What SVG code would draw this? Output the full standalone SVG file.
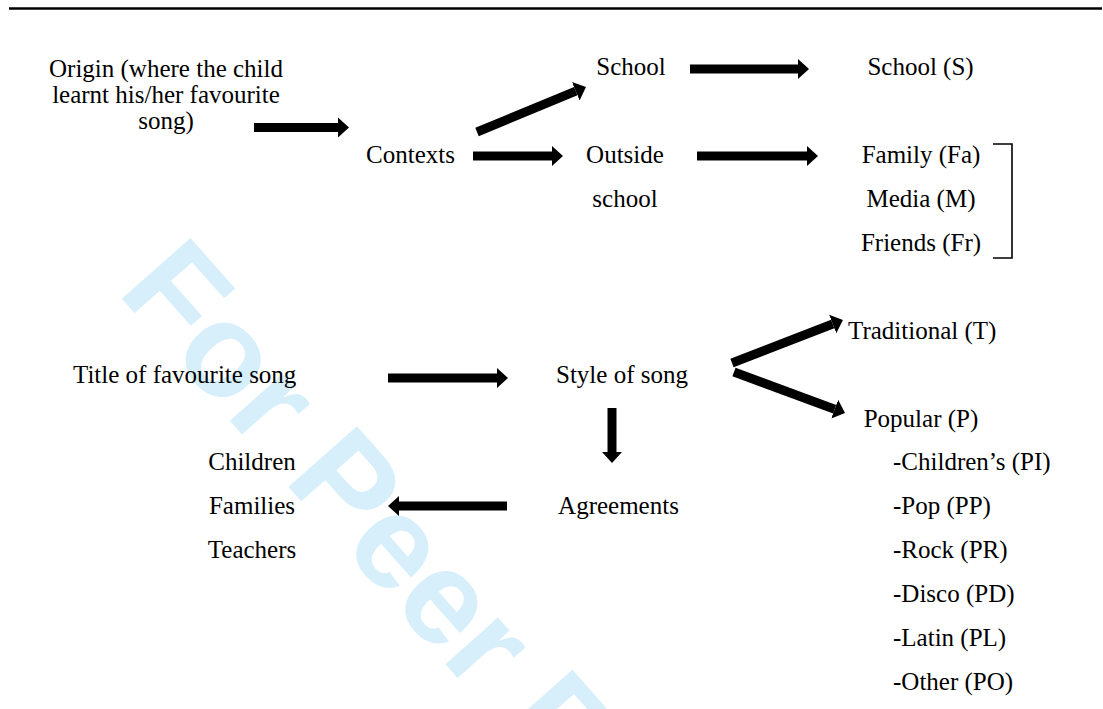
<svg xmlns="http://www.w3.org/2000/svg" width="1103" height="709" viewBox="0 0 1103 709">
<style>
  text { font-family: "Liberation Serif", "Times New Roman", serif; font-size: 25px; fill: #000; }
  .c { text-anchor: middle; }
  .wm { font-family: "Liberation Sans", Arial, sans-serif; font-weight: bold; font-size: 133px; fill: #d6effb; }
  .arr { stroke: #000; stroke-width: 9; fill: none; marker-end: url(#head); }
</style>
<defs>
  <marker id="head" markerUnits="userSpaceOnUse" markerWidth="12" markerHeight="22" refX="0" refY="11" orient="auto" viewBox="0 0 12 22">
    <path d="M0,1 L11,11 L0,21 Z" fill="#000"/>
  </marker>
</defs>
<rect width="1103" height="709" fill="#fff"/>
<text class="wm" transform="translate(116,292) rotate(48.5)">For Peer Review</text>
<line x1="9" y1="8.5" x2="1102" y2="8.5" stroke="#000" stroke-width="2.5"/>

<g id="connectors">
  <line class="arr" x1="254" y1="127.5" x2="338" y2="127.5"/>
  <line class="arr" x1="477" y1="132" x2="575.8" y2="91.2"/>
  <line class="arr" x1="473" y1="156" x2="552" y2="156"/>
  <line class="arr" x1="690" y1="69" x2="798" y2="69"/>
  <line class="arr" x1="697" y1="156" x2="807" y2="156"/>
  <line class="arr" x1="388" y1="378" x2="497" y2="378"/>
  <line class="arr" x1="732" y1="363" x2="832.7" y2="324"/>
  <line class="arr" x1="734" y1="372" x2="834.7" y2="409.2"/>
  <line class="arr" x1="612" y1="408" x2="612" y2="452"/>
  <line class="arr" x1="507" y1="506" x2="399" y2="506"/>
  <path d="M993,144 H1012 V258 H993" fill="none" stroke="#000" stroke-width="1.6"/>
</g>

<g id="origin">
  <text class="c" x="166" y="77">Origin (where the child</text>
  <text class="c" x="166" y="103">learnt his/her favourite</text>
  <text class="c" x="166" y="129">song)</text>
</g>
<g id="contexts"><text class="c" x="410.5" y="163">Contexts</text></g>
<g id="school"><text class="c" x="631" y="75">School</text></g>
<g id="outside-school">
  <text class="c" x="625" y="163">Outside</text>
  <text class="c" x="625" y="207">school</text>
</g>
<g id="school-s"><text class="c" x="920.5" y="75">School (S)</text></g>
<g id="outside-list">
  <text class="c" x="921" y="163">Family (Fa)</text>
  <text class="c" x="921" y="207">Media (M)</text>
  <text class="c" x="921" y="251">Friends (Fr)</text>
</g>
<g id="title"><text x="73" y="383">Title of favourite song</text></g>
<g id="style"><text class="c" x="622" y="383">Style of song</text></g>
<g id="traditional"><text x="848" y="339">Traditional (T)</text></g>
<g id="popular">
  <text class="c" x="921" y="427">Popular (P)</text>
  <text x="893" y="470">-Children’s (PI)</text>
  <text x="893" y="514">-Pop (PP)</text>
  <text x="893" y="558">-Rock (PR)</text>
  <text x="893" y="602">-Disco (PD)</text>
  <text x="893" y="646">-Latin (PL)</text>
  <text x="893" y="690">-Other (PO)</text>
</g>
<g id="agreements"><text class="c" x="618.5" y="514">Agreements</text></g>
<g id="audiences">
  <text class="c" x="252" y="470">Children</text>
  <text class="c" x="252" y="514">Families</text>
  <text class="c" x="252" y="558">Teachers</text>
</g>
</svg>
